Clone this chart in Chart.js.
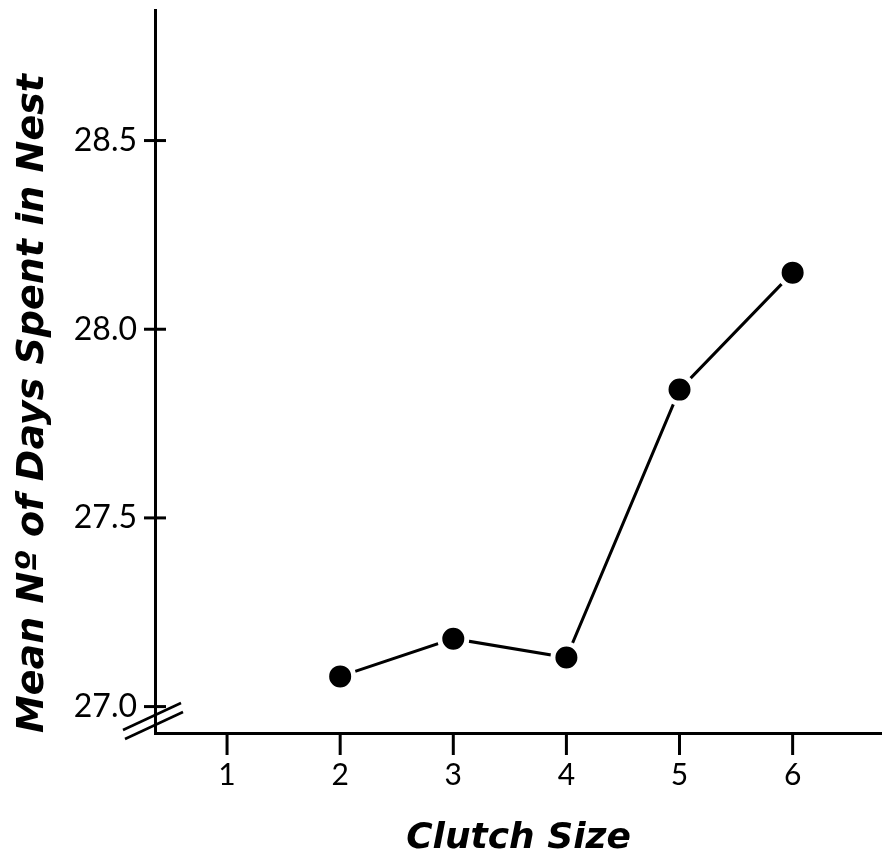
<!DOCTYPE html>
<html>
<head>
<meta charset="utf-8">
<script src="https://cdn.jsdelivr.net/npm/chart.js@4/dist/chart.umd.min.js"></script>
<style>
  html, body { margin: 0; padding: 0; background: #fff; }
  #wrap { width: 882px; height: 861px; }
</style>
</head>
<body>
<div id="wrap"><canvas id="myChart" width="882" height="861"></canvas></div>
<script>
// values
const clutchSizes = [2, 3, 4, 5, 6];
const meanDaysInNest = [27.08, 27.18, 27.13, 27.84, 28.15];
const xTickValues = [1, 2, 3, 4, 5, 6];
const yTickValues = [27.0, 27.5, 28.0, 28.5];

const ink = '#000';
const titleFont = 'DejaVu Sans';

// keep the plot box fixed, no extra room for end labels
function fixBox(s, size) {
    if (s.isHorizontal()) s.height = size; else s.width = size;
    s.paddingTop = s.paddingBottom = s.paddingLeft = s.paddingRight = 0;
}

// tick marks crossing the y axis, short ticks under the x axis, and the // axis break
const axisMarks = {
    id: 'axisMarks',
    afterDatasetsDraw(chart) {
        const { ctx, chartArea, scales } = chart;
        ctx.save();
        ctx.strokeStyle = ink;
        ctx.lineWidth = 3;
        ctx.lineCap = 'butt';
        yTickValues.forEach(v => {
            const py = scales.y.getPixelForValue(v);
            ctx.beginPath();
            ctx.moveTo(chartArea.left - 11, py);
            ctx.lineTo(chartArea.left + 11, py);
            ctx.stroke();
        });
        xTickValues.forEach(v => {
            const px = scales.x.getPixelForValue(v);
            ctx.beginPath();
            ctx.moveTo(px, chartArea.bottom);
            ctx.lineTo(px, chartArea.bottom + 22);
            ctx.stroke();
        });
        // axis break
        const l = chartArea.left, b = chartArea.bottom;
        ctx.lineWidth = 2.5;
        [[0, -4], [2, 5]].forEach(([dx, dy]) => {
            ctx.beginPath();
            ctx.moveTo(l - 32 + dx, b + 1 + dy);
            ctx.lineTo(l + 26 + dx, b - 26 + dy);
            ctx.stroke();
        });
        ctx.restore();
    }
};

new Chart(document.getElementById('myChart'), {
    type: 'line',
    data: {
        datasets: [{
            data: clutchSizes.map((c, i) => ({ x: c, y: meanDaysInNest[i] })),
            borderColor: ink,
            borderWidth: 3,
            pointRadius: 13.5,
            pointBackgroundColor: ink,
            pointBorderColor: '#fff',
            pointBorderWidth: 5,
            tension: 0,
            clip: false
        }]
    },
    options: {
        responsive: false,
        animation: false,
        events: [],
        layout: { autoPadding: false, padding: { top: 10, left: 0, right: 0, bottom: 0 } },
        plugins: { legend: { display: false }, tooltip: { enabled: false } },
        scales: {
            x: {
                type: 'linear',
                min: 0.363,
                max: 6.79,
                afterFit: s => fixBox(s, 128),
                afterBuildTicks: s => { s.ticks = xTickValues.map(v => ({ value: v })); },
                grid: { display: false, drawTicks: false },
                border: { display: true, color: ink, width: 3 },
                ticks: {
                    color: ink,
                    padding: 24,
                    font: { family: 'Lato', size: 30 },
                    maxRotation: 0,
                    autoSkip: false
                },
                title: {
                    display: true,
                    text: 'Clutch Size',
                    color: ink,
                    font: { family: titleFont, size: 36, style: 'italic', weight: 'bold' },
                    padding: { top: 0, bottom: 1 }
                }
            },
            y: {
                type: 'linear',
                min: 26.93,
                max: 28.846,
                afterFit: s => fixBox(s, 155),
                afterBuildTicks: s => { s.ticks = yTickValues.map(v => ({ value: v })); },
                grid: { display: false, drawTicks: false },
                border: { display: true, color: ink, width: 3 },
                ticks: {
                    color: ink,
                    padding: 18,
                    font: { family: 'Lato', size: 32 },
                    callback: v => Number(v).toFixed(1)
                },
                title: {
                    display: true,
                    text: 'Mean Nº of Days Spent in Nest',
                    align: 'start',
                    color: ink,
                    font: { family: titleFont, size: 38, style: 'italic', weight: 'bold' },
                    padding: { top: 10, bottom: 0 }
                }
            }
        }
    },
    plugins: [axisMarks]
});
</script>
</body>
</html>
